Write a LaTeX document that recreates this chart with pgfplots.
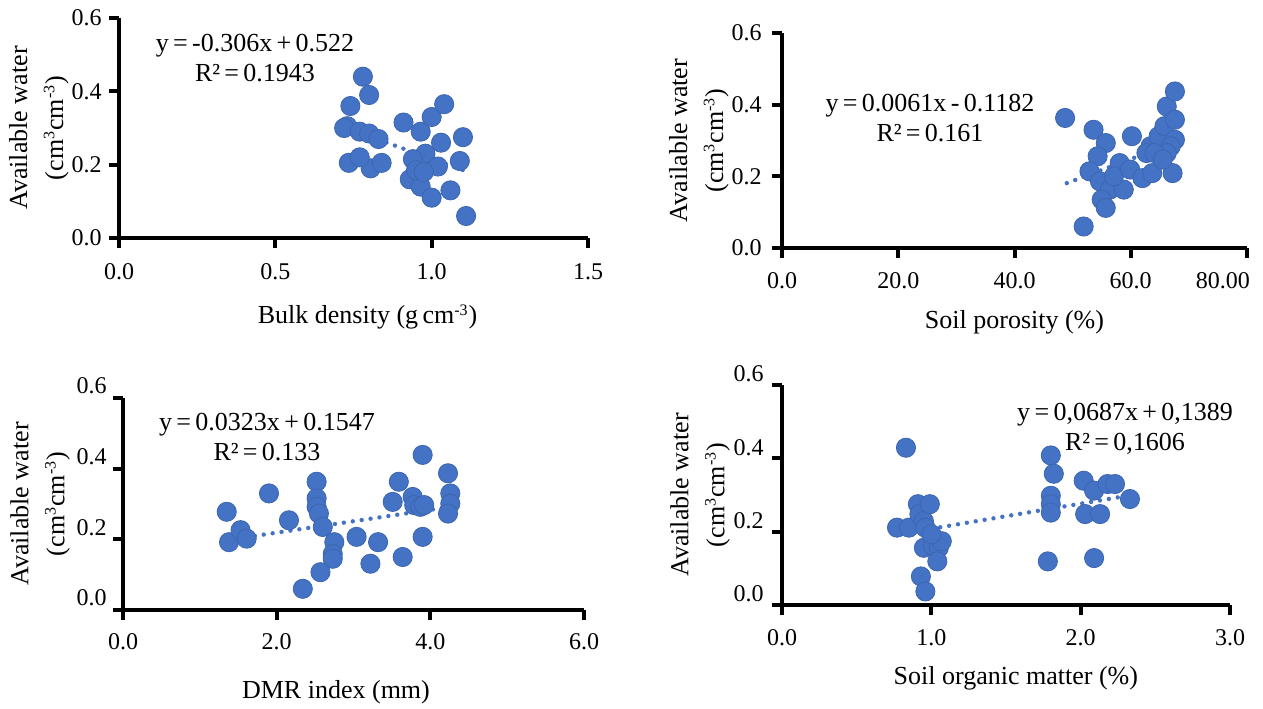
\documentclass[border=0pt]{standalone}
\usepackage{fontspec}
\setmainfont{Liberation Serif}
\usepackage{pgfplots}
\pgfplotsset{compat=1.18}
\definecolor{dotblue}{HTML}{4472C4}
\definecolor{dotedge}{HTML}{3D66B0}
\newcommand\sups[1]{\textsuperscript{\fontsize{8bp}{8bp}\selectfont #1}}

\pgfplotsset{
  soilpanel/.style={
    scale only axis,
    axis lines=left,
    axis line style={-, line width=2bp, black},
    tick style={line width=2bp, black},
    major tick length=5bp,
    tick align=outside,
    ymin=0, ymax=0.6,
    ytick={0,0.2,0.4,0.6},
    yticklabels={0.0,0.2,0.4,0.6},
    ticklabel style={font=\fontsize{12bp}{14bp}\selectfont},
    label style={font=\fontsize{13bp}{18bp}\selectfont},
    /pgf/number format/assume math mode=true,
    clip=false,
    ylabel={Available water\\(cm\sups{3}cm\sups{-3})},
    xticklabel style={anchor=center, inner sep=0bp},
    yticklabel style={anchor=east, inner sep=0bp},
  },
  pts/.style={only marks, mark=*, mark size=4.8bp,
    mark options={fill=dotblue, draw=dotedge, line width=0.4bp}},
  trend/.style={dotblue, line width=2.2bp, line cap=round,
    dash pattern=on 0bp off 4.5bp},
}

\begin{document}
\begin{tikzpicture}
\useasboundingbox (0,0) rectangle (631.5bp,-354.5bp);

% bulk density
\begin{axis}[soilpanel, at={(59.5bp,-119bp)}, anchor=south west,
  width=234.5bp, height=110bp,
  xmin=0, xmax=1.5, xtick={0,0.5,1,1.5}, xticklabels={0.0,0.5,1.0,1.5},
  xlabel={Bulk density (g\,cm\sups{-3})},
  xlabel style={at={(axis description cs:0.53,0)}, anchor=center, yshift=-39.5bp},
  ylabel style={at={(axis description cs:-0.171,0.5)}, anchor=center, align=center},
  xticklabel style={yshift=-12bp},
  yticklabel style={xshift=-3.5bp}]
\addplot[trend] coordinates {(0.72,0.302) (1.12,0.179)};
\addplot[pts] coordinates {
(0.78,0.44) (0.80,0.39) (0.74,0.36) (0.73,0.305) (0.72,0.30) (0.77,0.29)
(0.80,0.285) (0.83,0.27) (0.735,0.205) (0.805,0.19) (0.84,0.205) (0.77,0.22)
(0.91,0.315) (0.965,0.29) (1.00,0.33) (1.04,0.365) (1.03,0.26) (0.98,0.23)
(0.94,0.215) (0.93,0.16) (0.965,0.14) (1.02,0.195) (1.00,0.11) (1.06,0.13)
(1.10,0.275) (1.09,0.21) (1.11,0.06) (0.95,0.185) (0.975,0.18)};
\end{axis}

% soil porosity
\begin{axis}[soilpanel, at={(391bp,-124bp)}, anchor=south west,
  width=232.5bp, height=107.5bp,
  xmin=0, xmax=80, xtick={0,20,40,60}, xticklabels={0.0,20.0,40.0,60.0},
  extra x ticks={80}, extra x tick labels={80.00},
  extra x tick style={xticklabel style={xshift=-12bp}},
  xlabel={Soil porosity (\%)},
  xlabel style={at={(axis description cs:0.50,0)}, anchor=center, yshift=-37bp},
  ylabel style={at={(axis description cs:-0.179,0.5)}, anchor=center, align=center},
  xticklabel style={yshift=-11.5bp},
  yticklabel style={xshift=-5bp}]
\addplot[trend] coordinates {(49,0.181) (68,0.297)};
\addplot[pts] coordinates {
(48.7,0.363) (53.6,0.33) (55.7,0.293) (54.3,0.256) (52.9,0.214) (54.7,0.186)
(56.4,0.163) (55.0,0.135) (55.7,0.112) (51.9,0.06) (58.1,0.237) (58.8,0.163)
(57.1,0.20) (60.2,0.312) (59.9,0.219) (62.0,0.195) (63.7,0.209) (63.4,0.284)
(62.7,0.265) (64.8,0.312) (65.8,0.34) (66.2,0.395) (67.6,0.358) (67.6,0.302)
(66.9,0.284) (66.2,0.265) (67.2,0.209) (67.6,0.437) (64.1,0.265) (65.5,0.247)};
\end{axis}

% DMR index
\begin{axis}[soilpanel, at={(61.5bp,-305bp)}, anchor=south west,
  width=230.5bp, height=106bp,
  xmin=0, xmax=6, xtick={0,2,4,6}, xticklabels={0.0,2.0,4.0,6.0},
  xlabel={DMR index (mm)},
  xlabel style={at={(axis description cs:0.462,0)}, anchor=center, yshift=-41bp},
  ylabel style={at={(axis description cs:-0.18,0.5)}, anchor=center, align=center},
  xticklabel style={yshift=-11bp},
  yticklabel style={xshift=-3bp, yshift=6bp}]
\addplot[trend] coordinates {(1.6,0.206) (4.26,0.292)};
\addplot[pts] coordinates {
(1.35,0.278) (1.38,0.192) (1.53,0.226) (1.61,0.202) (1.90,0.33) (2.16,0.254)
(2.52,0.363) (2.52,0.316) (2.52,0.292) (2.55,0.273) (2.60,0.235) (2.75,0.192)
(2.73,0.159) (2.73,0.145) (2.57,0.107) (2.34,0.06) (3.04,0.207) (3.32,0.192)
(3.22,0.131) (3.51,0.306) (3.59,0.363) (3.64,0.15) (3.77,0.32) (3.79,0.297)
(3.87,0.292) (3.92,0.297) (3.90,0.439) (3.90,0.207) (4.23,0.387) (4.26,0.33)
(4.26,0.301) (4.23,0.273)};
\end{axis}

% soil organic matter
\begin{axis}[soilpanel, at={(391bp,-302.5bp)}, anchor=south west,
  width=224bp, height=110bp,
  xmin=0, xmax=3, xtick={0,1,2,3}, xticklabels={0.0,1.0,2.0,3.0},
  xlabel={Soil organic matter (\%)},
  xlabel style={at={(axis description cs:0.522,0)}, anchor=center, yshift=-36.5bp},
  ylabel style={at={(axis description cs:-0.183,0.5)}, anchor=center, align=center},
  xticklabel style={yshift=-11.5bp},
  yticklabel style={xshift=-4bp, yshift=5.5bp}]
\addplot[trend] coordinates {(1.0,0.208) (2.33,0.299)};
\addplot[pts] coordinates {
(0.83,0.429) (0.77,0.211) (0.85,0.211) (0.91,0.275) (0.92,0.248) (0.95,0.229)
(0.99,0.275) (0.96,0.211) (0.95,0.156) (1.01,0.161) (1.05,0.156) (1.04,0.119)
(1.07,0.174) (1.00,0.193) (0.93,0.078) (0.96,0.037) (1.80,0.408) (1.82,0.358)
(1.80,0.298) (1.80,0.275) (1.80,0.252) (1.78,0.119) (2.02,0.339) (2.03,0.248)
(2.09,0.312) (2.13,0.248) (2.09,0.128) (2.18,0.33) (2.23,0.33) (2.33,0.289)};
\end{axis}

% regression equations
\begin{scope}[every node/.style={align=center, font=\fontsize{13bp}{15bp}\selectfont}]
\node at (127.5bp,-29bp) {y\,=\,-0.306x\,+\,0.522\\R²\,=\,0.1943};
\node at (465bp,-59bp) {y\,=\,0.0061x\,-\,0.1182\\R²\,=\,0.161};
\node at (133.5bp,-218.5bp) {y\,=\,0.0323x\,+\,0.1547\\R²\,=\,0.133};
\node at (562.5bp,-214.5bp) {y\,=\,0,0687x\,+\,0,1389\\R²\,=\,0,1606};
\end{scope}
\end{tikzpicture}
\end{document}
